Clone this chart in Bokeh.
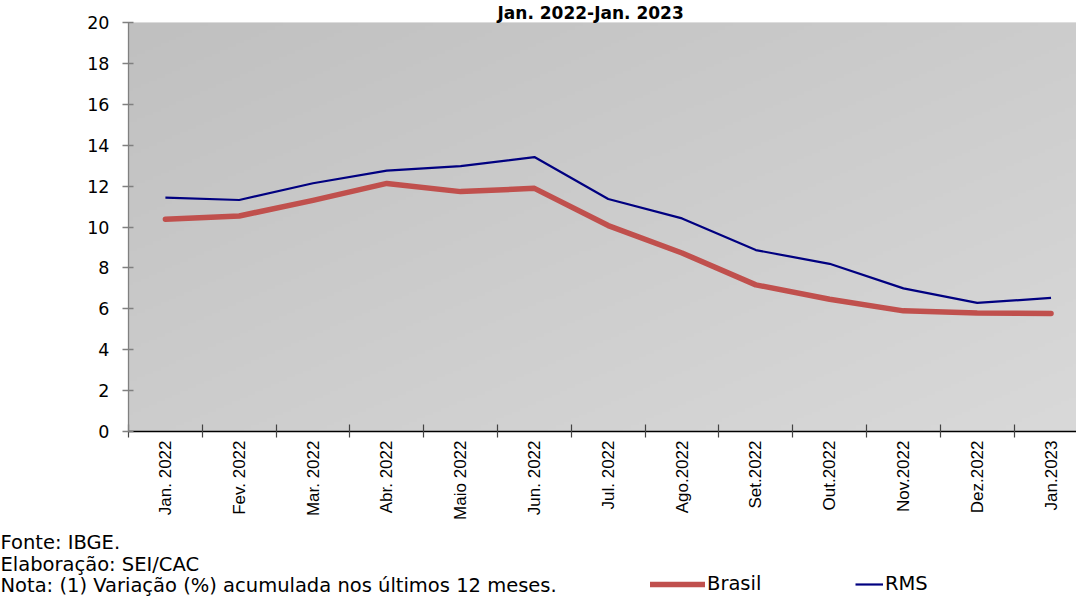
import numpy as np
from bokeh.plotting import figure
from bokeh.layouts import column
from bokeh.models import Range1d, FixedTicker, Label, Legend, LegendItem, Title
from bokeh.embed import file_html
from bokeh.resources import INLINE

months = ["Jan. 2022", "Fev. 2022", "Mar. 2022", "Abr. 2022", "Maio 2022", "Jun. 2022",
          "Jul. 2022", "Ago.2022", "Set.2022", "Out.2022", "Nov.2022", "Dez.2022", "Jan.2023"]
brasil = [10.38, 10.54, 11.30, 12.13, 11.73, 11.89, 10.07, 8.73, 7.17, 6.47, 5.90, 5.79, 5.77]
rms = [11.44, 11.32, 12.14, 12.76, 12.98, 13.42, 11.37, 10.42, 8.87, 8.20, 7.00, 6.29, 6.53]
y_ticks = [0, 2, 4, 6, 8, 10, 12, 14, 16, 18, 20]

FONT = "Liberation Sans"
HFONT = "DejaVu Sans"
HSIZE = "17.5px"
FSIZE = "19.5px"
BR_COLOR = "#C0504D"
RMS_COLOR = "#000080"
xs = list(range(1, len(months) + 1))

p = figure(width=1076, height=526, output_backend="svg", toolbar_location=None,
           x_range=Range1d(0.5, 13.345), y_range=Range1d(0, 20),
           min_border_left=128, min_border_right=0, min_border_top=22, min_border_bottom=95)
p.frame_align = False
p.outline_line_color = None
p.xgrid.visible = False
p.ygrid.visible = False
p.background_fill_color = "#cccccc"
p.border_fill_color = "white"

# gradient background (dark top-left -> light bottom-right)
ny, nx = 120, 240
gx = np.linspace(0, 1, nx)[None, :]
gy = np.linspace(0, 1, ny)[:, None]  # row 0 is bottom
t = (gx + (1 - gy)) / 2.0
val = (192 + 25 * t).astype(np.uint32)
img = (255 << 24) | (val << 16) | (val << 8) | val
p.image_rgba(image=[img.astype(np.uint32)], x=0.5, y=0, dw=12.845, dh=20, level="image")

r_br = p.line(xs, brasil, line_color=BR_COLOR, line_width=5.5, line_cap="round", line_join="round")
r_rms = p.line(xs, rms, line_color=RMS_COLOR, line_width=2.2, line_join="round")

# title
p.title = Title(text="Jan. 2022-Jan. 2023", align="left", offset=369, standoff=0,
                text_font=HFONT, text_font_size="17px", text_font_style="bold", text_color="black")

# axes
p.xaxis.ticker = FixedTicker(ticks=xs, minor_ticks=[i + 0.5 for i in range(0, len(months) + 1)])
p.xaxis.major_label_overrides = {i: m for i, m in zip(xs, months)}
p.xaxis.major_label_orientation = np.pi / 2
p.xaxis.major_tick_line_color = None
p.xaxis.major_tick_in = 0
p.xaxis.major_tick_out = 6
p.xaxis.minor_tick_line_color = "#444444"
p.xaxis.minor_tick_line_width = 1.2
p.xaxis.minor_tick_in = 7
p.xaxis.minor_tick_out = 6
p.xaxis.axis_line_color = "black"
p.xaxis.axis_line_width = 1.3
p.xaxis.major_label_standoff = 3
p.xaxis.major_label_text_font = FONT
p.xaxis.major_label_text_font_size = "17px"
p.xaxis.major_label_text_color = "black"

p.yaxis.ticker = FixedTicker(ticks=y_ticks)
p.yaxis.minor_tick_line_color = None
p.yaxis.major_tick_in = 5
p.yaxis.major_tick_out = 6
p.yaxis.major_tick_line_color = "#808080"
p.yaxis.major_tick_line_width = 1.3
p.yaxis.axis_line_color = "#808080"
p.yaxis.axis_line_width = 1.3
p.yaxis.major_label_standoff = 13
p.yaxis.major_label_text_font = HFONT
p.yaxis.major_label_text_font_size = HSIZE
p.yaxis.major_label_text_color = "black"

p.add_layout(Label(x=-92, y=379, x_units="screen", y_units="screen", text="(%)",
                   text_align="left", text_baseline="middle", text_font=HFONT,
                   text_font_size=HSIZE, text_color="black"))

# footer: notes + legend
f = figure(width=1076, height=72, output_backend="svg", toolbar_location=None,
           x_range=Range1d(0, 1), y_range=Range1d(0, 1),
           x_axis_location=None, y_axis_location=None,
           min_border_left=0, min_border_right=0, min_border_top=0, min_border_bottom=0)
f.frame_align = False
f.outline_line_color = None
f.xgrid.visible = False
f.ygrid.visible = False
f.background_fill_color = "white"
f.border_fill_color = "white"

foot = ["Fonte: IBGE.", "Elaboração: SEI/CAC", "Nota: (1) Variação (%) acumulada nos últimos 12 meses."]
for i, s in enumerate(foot):
    f.add_layout(Label(x=0, y=56 - 21.5 * i, x_units="screen", y_units="screen", text=s,
                       text_align="left", text_baseline="middle", text_font=HFONT,
                       text_font_size=FSIZE, text_color="black"))

nan = float("nan")
d_br = f.line([nan, nan], [nan, nan], line_color=BR_COLOR, line_width=5.5, line_cap="round")
d_rms = f.line([nan, nan], [nan, nan], line_color=RMS_COLOR, line_width=2.2)
for r, name, gw, lx in [(d_br, "Brasil", 55, 650), (d_rms, "RMS", 28, 855)]:
    lg = Legend(items=[LegendItem(label=name, renderers=[r])], location=(lx, 3),
                glyph_width=gw, glyph_height=20, label_height=20, label_standoff=2,
                padding=0, margin=0, spacing=0, border_line_color=None,
                background_fill_alpha=0, label_text_font=HFONT, label_text_font_size=FSIZE,
                label_text_color="black")
    f.add_layout(lg)

layout = column(p, f, spacing=0)
open("out.html", "w").write(file_html(layout, INLINE))
